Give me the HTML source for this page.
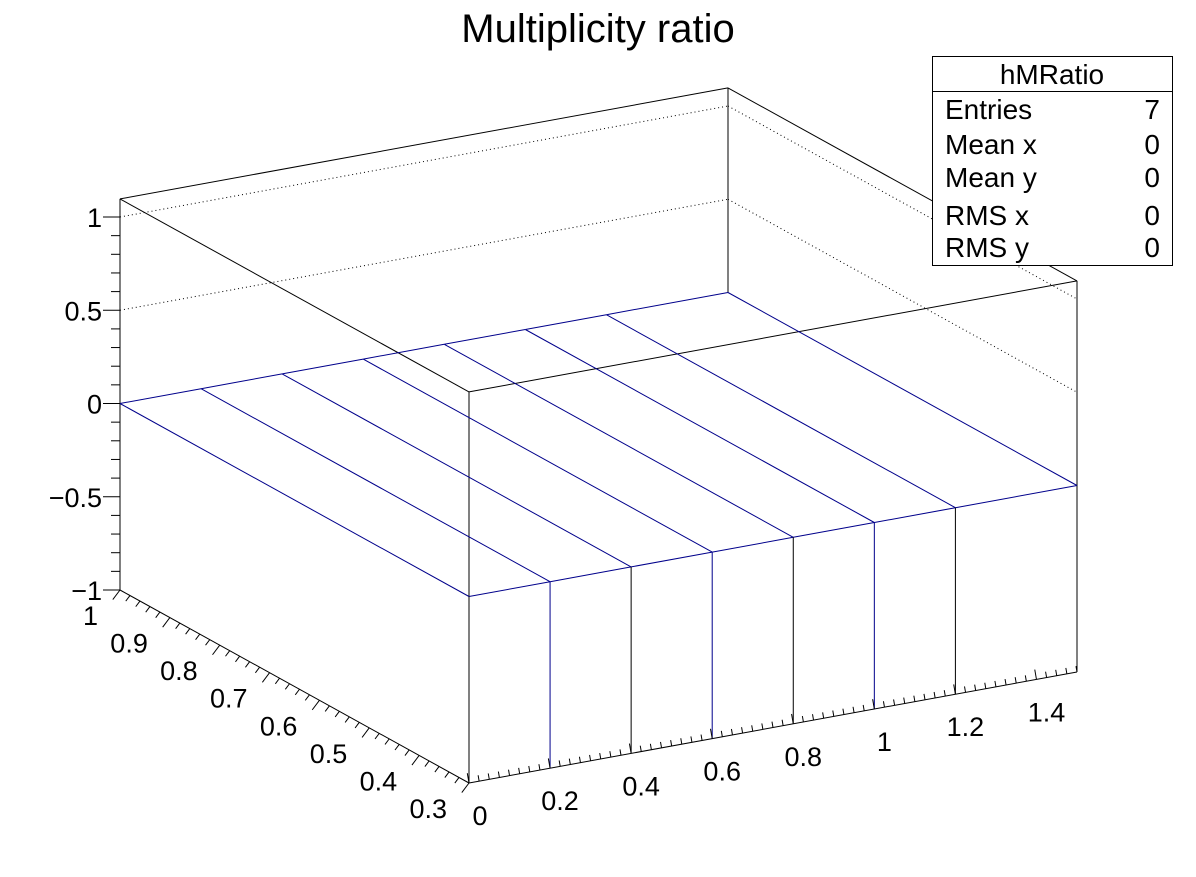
<!DOCTYPE html>
<html><head><meta charset="utf-8"><style>
html,body{margin:0;padding:0;background:#fff;}
svg text{font-family:"Liberation Sans",sans-serif;fill:#000;}
</style></head><body>
<svg id="chart" width="1196" height="872" viewBox="0 0 1196 872" xmlns="http://www.w3.org/2000/svg">
<rect x="0" y="0" width="1196" height="872" fill="#fff"/>
<text x="598" y="42" font-size="40" text-anchor="middle">Multiplicity ratio</text>
<g id="plot"></g>
<g>
<rect x="932.5" y="56.5" width="240" height="209" fill="#fff" stroke="#000" stroke-width="1"/>
<line x1="932" y1="91.5" x2="1172" y2="91.5" stroke="#000" stroke-width="1"/>
<text x="1052" y="84" font-size="28" text-anchor="middle">hMRatio</text>
<text x="945" y="119" font-size="28">Entries</text>
<text x="1160" y="119" font-size="28" text-anchor="end">7</text>
<text x="945" y="154" font-size="28">Mean x</text>
<text x="1160" y="154" font-size="28" text-anchor="end">0</text>
<text x="945" y="187" font-size="28">Mean y</text>
<text x="1160" y="187" font-size="28" text-anchor="end">0</text>
<text x="945" y="225" font-size="28">RMS x</text>
<text x="1160" y="225" font-size="28" text-anchor="end">0</text>
<text x="945" y="257" font-size="28">RMS y</text>
<text x="1160" y="257" font-size="28" text-anchor="end">0</text>
</g>
</svg>
<script>
const binEdges = [0, 0.2, 0.4, 0.6, 0.8, 1.0, 1.2, 1.5];
const binContents = [0, 0, 0, 0, 0, 0, 0];
const xTickLabels = ["0","0.2","0.4","0.6","0.8","1","1.2","1.4"];
const xTickValues = [0,0.2,0.4,0.6,0.8,1.0,1.2,1.4];
const yTickLabels = ["0.3","0.4","0.5","0.6","0.7","0.8","0.9","1"];
const yTickValues = [0.3,0.4,0.5,0.6,0.7,0.8,0.9,1.0];
const zTickLabels = ["\u22121","\u22120.5","0","0.5","1"];
const zTickValues = [-1,-0.5,0,0.5,1];
const gridZ = [0.5, 1];

const XMIN=0, XMAX=1.5, YMIN=0.3, YMAX=1.0, ZMIN=-1, ZMAX=1.097;
const O=[469,783];
const EX=[(1077-469)/1.5,(672-783)/1.5];
const EY=[(120-469)/(YMAX-YMIN),(590-783)/(YMAX-YMIN)];
const EZ=[0,-186.5];
function P(x,y,z){return [O[0]+(x-XMIN)*EX[0]+(y-YMIN)*EY[0]+(z-ZMIN)*EZ[0], O[1]+(x-XMIN)*EX[1]+(y-YMIN)*EY[1]+(z-ZMIN)*EZ[1]];}
const NS="http://www.w3.org/2000/svg";
const g=document.getElementById('plot');
function line(a,b,color,name,dash){
  const l=document.createElementNS(NS,'line');
  l.setAttribute('x1',a[0]);l.setAttribute('y1',a[1]);l.setAttribute('x2',b[0]);l.setAttribute('y2',b[1]);
  l.setAttribute('stroke',color);l.setAttribute('stroke-width','1');
  if(dash)l.setAttribute('stroke-dasharray',dash);
  
  
  g.appendChild(l);return l;
}
function text(x,y,s,anchor,name){
  const t=document.createElementNS(NS,'text');
  t.setAttribute('x',x);t.setAttribute('y',y);t.setAttribute('font-size','27');
  t.setAttribute('text-anchor',anchor);t.textContent=s;
  
  
  g.appendChild(t);
}
const K='#000', B='#00008b';
gridZ.forEach(z=>{
  line(P(XMIN,YMAX,z),P(XMAX,YMAX,z),K,'grid-line-back-wall','1,3');
  line(P(XMAX,YMAX,z),P(XMAX,YMIN,z),K,'grid-line-right-wall','1,3');
});
line(P(XMIN,YMAX,ZMAX),P(XMAX,YMAX,ZMAX),K,'box-edge');
line(P(XMAX,YMAX,ZMAX),P(XMAX,YMIN,ZMAX),K,'box-edge');
line(P(XMAX,YMIN,ZMAX),P(XMIN,YMIN,ZMAX),K,'box-edge');
line(P(XMIN,YMIN,ZMAX),P(XMIN,YMAX,ZMAX),K,'box-edge');
line(P(XMIN,YMAX,ZMIN),P(XMIN,YMAX,ZMAX),K,'z-axis-line');
line(P(XMAX,YMAX,0),P(XMAX,YMAX,ZMAX),K,'box-edge');
line(P(XMAX,YMIN,ZMIN),P(XMAX,YMIN,ZMAX),K,'box-edge');
line(P(XMIN,YMIN,ZMIN),P(XMIN,YMIN,ZMAX),K,'box-edge');
line(P(XMIN,YMIN,ZMIN),P(XMIN,YMAX,ZMIN),K,'y-axis-line');
line(P(XMIN,YMIN,ZMIN),P(XMAX,YMIN,ZMIN),K,'x-axis-line');
binContents.forEach((c,i)=>{
  const x0=binEdges[i], x1=binEdges[i+1];
  line(P(x0,YMAX,c),P(x1,YMAX,c),B,'bin-top-back');
  line(P(x0,YMIN,c),P(x1,YMIN,c),B,'bin-top-front');
  line(P(x0,YMAX,c),P(x0,YMIN,c),B,'bin-top-edge');
  line(P(x0,YMIN,c),P(x0,YMIN,ZMIN),i%2===1?B:K,'bin-front-edge');
});
const last=binEdges.length-1;
line(P(binEdges[last],YMAX,binContents[last-1]),P(binEdges[last],YMIN,binContents[last-1]),B,'bin-top-edge');
for(let k=-10;k<=10;k++){
  const z=k/10; const p=P(XMIN,YMAX,z);
  const len=(k%5===0)?17:9;
  line([p[0]-len,p[1]],p,K,'z-tick');
}
zTickValues.forEach((z,i)=>{const p=P(XMIN,YMAX,z);text(p[0]-18,p[1]+10,zTickLabels[i],'end','z-tick-label');});
for(let k=0;k*0.025<=XMAX+1e-9;k++){
  const x=k*0.025; const p=P(x,YMIN,ZMIN);
  const major=(k%8===0);
  const l=major?10:6;
  line(p,[p[0]-l*0.17,p[1]-l*0.98],K,'x-tick');
}
xTickValues.forEach((x,i)=>{const p=P(x,YMIN,ZMIN);text(p[0]+10+(i===0?1:0),p[1]+42,xTickLabels[i],'middle','x-tick-label');});
for(let k=0;;k++){
  const y=0.30+k*0.02; if(y>YMAX+1e-9)break;
  const p=P(XMIN,y,ZMIN);
  const major=(Math.abs(y*10-Math.round(y*10))<1e-6);
  const l=major?12:7;
  line(p,[p[0]-l*0.6,p[1]+l*0.8],K,'y-tick');
}
yTickValues.forEach((y,i)=>{const p=P(XMIN,y,ZMIN);text(p[0]-22,p[1]+35,yTickLabels[i],'end','y-tick-label');});
</script>
</body></html>
